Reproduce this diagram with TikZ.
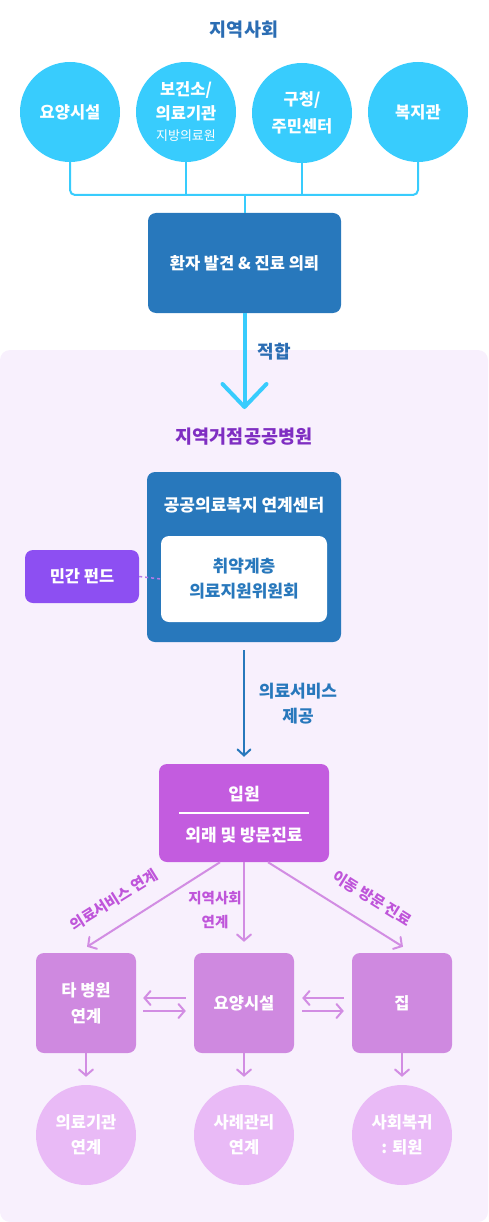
\documentclass[tikz,border=0pt]{standalone}
\usepackage{fontspec}
\setmainfont{Noto Sans CJK KR}
\usetikzlibrary{arrows.meta,calc}
\definecolor{cyanc}{HTML}{38CCFD}
\definecolor{boxblue}{HTML}{2878BC}
\definecolor{titleblue}{HTML}{2B6DB3}
\definecolor{lavbg}{HTML}{F8F0FD}
\definecolor{titlepurple}{HTML}{7F2EC2}
\definecolor{fundc}{HTML}{8D4FF2}
\definecolor{ipwonc}{HTML}{C35CDF}
\definecolor{lboxc}{HTML}{CF89E0}
\definecolor{lcircc}{HTML}{E9BAF6}
\definecolor{larrc}{HTML}{D28DE3}
\definecolor{lblpurple}{HTML}{BF55DA}
\definecolor{dotc}{HTML}{B47BE8}
\newcommand{\fs}[2]{\fontsize{#1}{#2}\selectfont}
\begin{document}
\begin{tikzpicture}[x=1pt,y=-1pt,
  topcirc/.style={circle, fill=cyanc, minimum size=100pt, inner sep=0pt, text=white, align=center, font=\fs{16.5}{24}\bfseries},
  cline/.style={draw=cyanc, line width=2pt},
  rbox/.style={rounded corners=8pt, inner sep=0pt, align=center},
  larr/.style={draw=larrc, line width=2pt, -{Straight Barb[length=6pt,width=14pt,line cap=round]}},
  botbox/.style={rbox, fill=lboxc, minimum width=100pt, minimum height=100pt, text=white, font=\fs{16.5}{26}\bfseries},
  botcirc/.style={circle, fill=lcircc, minimum size=100pt, inner sep=0pt, text=white, align=center, font=\fs{16.5}{25}\bfseries},
  plbl/.style={text=lblpurple, font=\fs{15}{24}\bfseries, align=center, inner sep=0pt}
]
\useasboundingbox (0,0) rectangle (488,1222);
\fill[lavbg, rounded corners=10pt] (0,350) rectangle (488,1222);

% top section
\node[text=titleblue, font=\fs{18.5}{20}\bfseries] (t1) at (244,30) {지역사회};
\node[topcirc] (c1) at (70,112) {요양시설};
\node[topcirc] (c2) at (186,112) {보건소/\\의료기관\\[-3pt]{\fs{13}{16}\mdseries 지방의료원}};
\node[topcirc, font=\fs{16.5}{27}\bfseries] (c3) at (302,113) {구청/\\주민센터};
\node[topcirc] (c4) at (418,112) {복지관};
\coordinate (bus) at (244.5,195);
\node[rbox, fill=boxblue, minimum width=193pt, minimum height=100pt, text=white, font=\fs{16.5}{20}\bfseries] (ref) at (244.5,263) {환자 발견 \& 진료 의뢰};
\draw[cline, rounded corners=5pt] (c1.south) |- (bus) -| (c4.south);
\draw[cline] (c2.south) -- (c2.south |- bus);
\draw[cline] (c3.south) -- (c3.south |- bus);
\draw[cline] (bus) -- (ref.north);

\coordinate (tip) at (244.5,407);
\draw[cyanc, line width=4pt] (ref.south) -- ([yshift=2pt]tip);
\draw[cyanc, line width=4pt, line cap=round, line join=round] ($(tip)+(-22,-23)$) -- (tip) -- ($(tip)+(22,-23)$);
\node[text=titleblue, font=\fs{18}{20}\bfseries, anchor=west] (fit) at (254,352) {적합};

% hospital section
\node[text=titlepurple, font=\fs{18.5}{20}\bfseries] (t2) at (244,437) {지역거점공공병원};
\node[rbox, fill=boxblue, minimum width=194pt, minimum height=170pt] (ctr) at (244,557) {};
\node[text=white, font=\fs{17}{20}\bfseries] (ctrl) at (244,505) {공공의료복지 연계센터};
\node[rbox, fill=white, minimum width=166pt, minimum height=86pt, text=boxblue, font=\fs{17}{25}\bfseries] (comm) at (244,579) {취약계층\\의료지원위원회};
\node[rbox, fill=fundc, minimum width=114pt, minimum height=53pt, text=white, font=\fs{16.5}{20}\bfseries] (fund) at (82,576.5) {민간 펀드};
\draw[dotc, line width=1.5pt, dash pattern=on 3pt off 3pt] (fund.east) -- (comm.west);

\node[rbox, fill=ipwonc, minimum width=170pt, minimum height=98pt] (ipw) at (244,813) {};
\node[text=white, font=\fs{17}{20}\bfseries] (ipwa) at (244,794) {입원};
\node[text=white, font=\fs{17}{20}\bfseries] (ipwb) at (244,835) {외래 및 방문진료};
\draw[white, line width=2pt] (179,813) -- (309,813);

\draw[draw=boxblue, line width=2pt, -{Straight Barb[length=6pt,width=13pt,line cap=round]}, shorten <=8pt, shorten >=7pt] (ctr.south) -- (ipw.north);
\node[text=boxblue, font=\fs{17}{25}\bfseries, align=center] (svc) at (298,703.5) {의료서비스\\제공};

% bottom row
\node[botbox] (b1) at (86,1003) {타 병원\\연계};
\node[botbox] (b2) at (244,1003) {요양시설};
\node[botbox] (b3) at (402,1003) {집};

\draw[larr] ([xshift=-24pt]ipw.south) -- ([xshift=1pt,yshift=6pt]b1.north);
\draw[larr] (ipw.south) -- ([yshift=11pt]b2.north);
\draw[larr] ([xshift=24pt]ipw.south) -- ([xshift=1pt,yshift=6pt]b3.north);
\node[plbl, rotate=32] (l1) at (114,900) {의료서비스 연계};
\node[plbl, font=\fs{14.5}{24}\bfseries] (l2) at (215,910) {지역사회\\연계};
\node[plbl, rotate=-32] (l3) at (372,898) {이동 방문 진료};

\draw[larr] ([xshift=-8pt,yshift=5pt]b2.west) -- ([xshift=7pt,yshift=5pt]b1.east);
\draw[larr] ([xshift=7pt,yshift=-8pt]b1.east) -- ([xshift=-8pt,yshift=-8pt]b2.west);
\draw[larr] ([xshift=-8pt,yshift=5pt]b3.west) -- ([xshift=8pt,yshift=5pt]b2.east);
\draw[larr] ([xshift=8pt,yshift=-8pt]b2.east) -- ([xshift=-8pt,yshift=-8pt]b3.west);

\node[botcirc] (d1) at (86,1135) {의료기관\\연계};
\node[botcirc] (d2) at (244,1135) {사례관리\\연계};
\node[botcirc] (d3) at (402,1135) {사회복귀\\: 퇴원};
\draw[larr] (b1.south) -- ([yshift=8pt]d1.north);
\draw[larr] (b2.south) -- ([yshift=8pt]d2.north);
\draw[larr] (b3.south) -- ([yshift=8pt]d3.north);
\end{tikzpicture}
\end{document}
